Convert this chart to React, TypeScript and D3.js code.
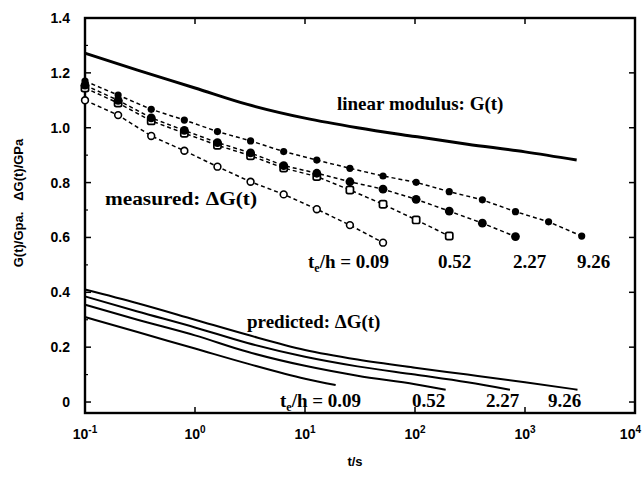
import React from "react";
import * as d3 from "d3";

// ---- data ----
const measuredTimes = [0.1, 0.2, 0.4, 0.8, 1.6, 3.2, 6.4, 12.8, 25.6, 51.2, 102.4, 204.8, 409.6, 819.2, 1638.4, 3276.8];
const measured009 = [1.10, 1.046, 0.970, 0.916, 0.858, 0.803, 0.757, 0.703, 0.645, 0.581];
const measured052 = [1.145, 1.09, 1.025, 0.98, 0.936, 0.898, 0.853, 0.822, 0.773, 0.721, 0.664, 0.605];
const measured227 = [1.155, 1.10, 1.036, 0.99, 0.946, 0.908, 0.862, 0.834, 0.803, 0.776, 0.739, 0.696, 0.652, 0.603];
const measured926 = [1.17, 1.119, 1.067, 1.028, 0.986, 0.952, 0.913, 0.882, 0.852, 0.824, 0.801, 0.767, 0.737, 0.694, 0.657, 0.605];

const linearT = [0.1, 0.3, 1, 3, 10, 30, 100, 300, 1000, 2950];
const linearG = [1.272, 1.21, 1.145, 1.085, 1.035, 1.0, 0.968, 0.94, 0.912, 0.882];

const predT926 = [0.1, 0.3, 1, 3, 10, 30, 100, 300, 1000, 3000];
const pred926 = [0.41, 0.36, 0.3, 0.245, 0.19, 0.155, 0.125, 0.1, 0.072, 0.045];
const predT227 = [0.1, 0.3, 1, 3, 10, 30, 100, 300, 730];
const pred227 = [0.385, 0.33, 0.272, 0.215, 0.165, 0.13, 0.1, 0.072, 0.045];
const predT052 = [0.1, 0.3, 1, 3, 10, 30, 100, 190];
const pred052 = [0.355, 0.3, 0.243, 0.183, 0.132, 0.096, 0.065, 0.045];
const predT009 = [0.1, 0.3, 1, 3, 10, 19];
const pred009 = [0.31, 0.255, 0.195, 0.14, 0.085, 0.062];

const yTicks = [0, 0.2, 0.4, 0.6, 0.8, 1.0, 1.2, 1.4];
const yTickLabels = ["0", "0.2", "0.4", "0.6", "0.8", "1.0", "1.2", "1.4"];
const yMinorTicks = [0.1, 0.3, 0.5, 0.7, 0.9, 1.1, 1.3];
const xTicks = [0.1, 1, 10, 100, 1000, 10000];
const xTickExps = ["-1", "0", "1", "2", "3", "4"];
const teLabels = ["0.09", "0.52", "2.27", "9.26"];

// ---- layout ----
const W = 643, H = 480;
const x = d3.scaleLog().domain([0.1, 1e4]).range([85, 635]);
const y = d3.scaleLinear().domain([-0.04, 1.4]).range([413, 18]);

const serif = "'Liberation Serif', 'Times New Roman', serif";
const sans = "'Liberation Sans', Arial, sans-serif";

function pairs(ts: number[], vs: number[]): [number, number][] {
  return vs.map((v, i) => [ts[i], v]);
}

const lineGen = d3
  .line<[number, number]>()
  .x((d) => x(d[0]))
  .y((d) => y(d[1]))
  .curve(d3.curveMonotoneX);

const straight = d3
  .line<[number, number]>()
  .x((d) => x(d[0]))
  .y((d) => y(d[1]));

type Marker = "openCircle" | "openSquare" | "filledBig" | "filledSmall";

function MarkerShape({ t, v, kind }: { t: number; v: number; kind: Marker }) {
  const cx = x(t), cy = y(v);
  if (kind === "openCircle")
    return <circle cx={cx} cy={cy} r={3.4} fill="#fff" stroke="#000" strokeWidth={1.6} />;
  if (kind === "openSquare")
    return <rect x={cx - 3.6} y={cy - 3.6} width={7.2} height={7.2} rx={1.8} fill="#fff" stroke="#000" strokeWidth={1.7} />;
  if (kind === "filledBig") return <circle cx={cx} cy={cy} r={4.4} fill="#000" />;
  return <circle cx={cx} cy={cy} r={3.6} fill="#000" />;
}

export default function App() {
  const measured: { vals: number[]; kind: Marker }[] = [
    { vals: measured009, kind: "openCircle" },
    { vals: measured052, kind: "openSquare" },
    { vals: measured227, kind: "filledBig" },
    { vals: measured926, kind: "filledSmall" },
  ];
  const predicted = [
    pairs(predT926, pred926),
    pairs(predT227, pred227),
    pairs(predT052, pred052),
    pairs(predT009, pred009),
  ];
  const [x0, x1] = x.range();
  const [yb, yt] = y.range();

  const te = (px: number, py: number, num: string, key: string) => (
    <text key={key} x={px} y={py} fontFamily={serif} fontWeight="bold" fontSize={19}>
      t<tspan fontSize={12} dy={4}>e</tspan>
      <tspan dy={-4}>/h = {num}</tspan>
    </text>
  );

  const measLabelX = [308, 438, 513, 577];
  const predLabelX = [280, 412, 486, 548];

  return (
    <svg width={W} height={H} style={{ position: "absolute", left: 0, top: 0, background: "#fff" }}>
      <rect x={0} y={0} width={W} height={H} fill="#fff" />

      {/* frame */}
      <rect x={x0} y={yt} width={x1 - x0} height={yb - yt} fill="none" stroke="#000" strokeWidth={2.4} />

      {/* y ticks */}
      {yTicks.map((v) => (
        <g key={"yt" + v}>
          <line x1={x0} x2={x0 + 6} y1={y(v)} y2={y(v)} stroke="#000" strokeWidth={1.5} />
          <line x1={x1} x2={x1 - 6} y1={y(v)} y2={y(v)} stroke="#000" strokeWidth={1.5} />
        </g>
      ))}
      {yMinorTicks.map((v) => (
        <line key={"ym" + v} x1={x0} x2={x0 + 3} y1={y(v)} y2={y(v)} stroke="#000" strokeWidth={1.2} />
      ))}
      {yTicks.map((v, i) => (
        <text key={"yl" + v} x={70} y={y(v) + 5} textAnchor="end" fontFamily={sans} fontWeight="bold" fontSize={14}>
          {yTickLabels[i]}
        </text>
      ))}

      {/* x ticks */}
      {xTicks.map((v, i) => {
        const last = i === xTicks.length - 1;
        return (
          <g key={"xt" + v}>
            <line x1={x(v)} x2={x(v)} y1={yb} y2={yb - 6} stroke="#000" strokeWidth={1.5} />
            <line x1={x(v)} x2={x(v)} y1={yt} y2={yt + 6} stroke="#000" strokeWidth={1.5} />
            <text
              x={last ? W - 2 : x(v)}
              y={439}
              textAnchor={last ? "end" : "middle"}
              fontFamily={sans}
              fontWeight="bold"
              fontSize={14}
            >
              10<tspan fontSize={10} dy={-6}>{xTickExps[i]}</tspan>
            </text>
          </g>
        );
      })}

      {/* axis titles */}
      <text x={355} y={466} textAnchor="middle" fontFamily={sans} fontWeight="bold" fontSize={13}>t/s</text>
      <text
        transform={`translate(23,203) rotate(-90)`}
        textAnchor="middle"
        fontFamily={sans}
        fontWeight="bold"
        fontSize={13}
        xmlSpace="preserve"
      >
        {"G(t)/Gpa.   ΔG(t)/GPa"}
      </text>

      {/* linear modulus */}
      <path d={lineGen(pairs(linearT, linearG)) || ""} fill="none" stroke="#000" strokeWidth={3} />

      {/* predicted */}
      {predicted.map((p, i) => (
        <path key={"p" + i} d={lineGen(p) || ""} fill="none" stroke="#000" strokeWidth={2} />
      ))}

      {/* measured */}
      {measured.map((m, i) => (
        <path
          key={"ml" + i}
          d={straight(pairs(measuredTimes, m.vals)) || ""}
          fill="none"
          stroke="#000"
          strokeWidth={1.5}
          strokeDasharray="4,3"
        />
      ))}
      {measured.map((m, i) =>
        m.vals.map((v, j) => <MarkerShape key={"mm" + i + "-" + j} t={measuredTimes[j]} v={v} kind={m.kind} />)
      )}

      {/* annotations */}
      <text x={337} y={110} fontFamily={serif} fontWeight="bold" fontSize={19}>linear modulus: G(t)</text>
      <text x={105} y={205} fontFamily={serif} fontWeight="bold" fontSize={19} textLength={152} lengthAdjust="spacingAndGlyphs">measured: ΔG(t)</text>
      <text x={247} y={328} fontFamily={serif} fontWeight="bold" fontSize={19}>predicted: ΔG(t)</text>

      {te(measLabelX[0], 268, teLabels[0], "mte")}
      {teLabels.slice(1).map((l, i) => (
        <text key={"ml" + l} x={measLabelX[i + 1]} y={268} fontFamily={serif} fontWeight="bold" fontSize={19}>{l}</text>
      ))}
      {te(predLabelX[0], 407, teLabels[0], "pte")}
      {teLabels.slice(1).map((l, i) => (
        <text key={"pl" + l} x={predLabelX[i + 1]} y={407} fontFamily={serif} fontWeight="bold" fontSize={19}>{l}</text>
      ))}
    </svg>
  );
}
